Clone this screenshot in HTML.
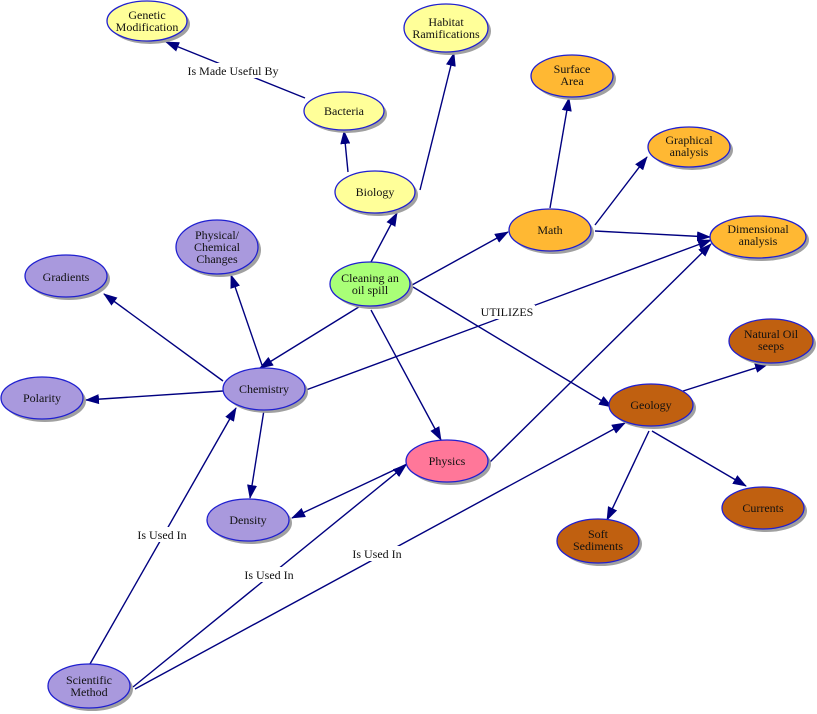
<!DOCTYPE html>
<html><head><meta charset="utf-8"><style>
html,body{margin:0;padding:0;background:#fff;}
svg{display:block;}
svg text{font-family:"Liberation Serif","DejaVu Serif",serif;font-size:12px;fill:#111;text-anchor:middle;}
</style></head><body>
<svg width="817" height="714" viewBox="0 0 817 714" xmlns="http://www.w3.org/2000/svg" font-family="Liberation Serif, DejaVu Serif, serif" font-size="12">
<defs>
<marker id="a" viewBox="0 0 14 10" refX="13" refY="5" markerWidth="14" markerHeight="10" markerUnits="userSpaceOnUse" orient="auto">
<path d="M0,0 L14,5 L0,10 Z" fill="#000080"/>
</marker>
</defs>
<g stroke="#000080" stroke-width="1.4" fill="none">
<line x1="305" y1="98" x2="166" y2="42" marker-end="url(#a)"/>
<line x1="348" y1="172" x2="344" y2="131" marker-end="url(#a)"/>
<line x1="420" y1="190" x2="454" y2="53" marker-end="url(#a)"/>
<line x1="371" y1="262" x2="397" y2="213" marker-end="url(#a)"/>
<line x1="412" y1="285" x2="508" y2="232" marker-end="url(#a)"/>
<line x1="362" y1="305" x2="260" y2="368" marker-end="url(#a)"/>
<line x1="371" y1="310" x2="441" y2="440" marker-end="url(#a)"/>
<line x1="413" y1="287" x2="612" y2="407" marker-end="url(#a)"/>
<line x1="550" y1="208" x2="569" y2="98" marker-end="url(#a)"/>
<line x1="595" y1="225" x2="647" y2="157" marker-end="url(#a)"/>
<line x1="595" y1="231" x2="710" y2="237" marker-end="url(#a)"/>
<line x1="306" y1="390" x2="711" y2="240" marker-end="url(#a)"/>
<line x1="263" y1="368" x2="231" y2="275" marker-end="url(#a)"/>
<line x1="223" y1="381" x2="104" y2="294" marker-end="url(#a)"/>
<line x1="223" y1="391" x2="86" y2="400" marker-end="url(#a)"/>
<line x1="264" y1="410" x2="250" y2="498" marker-end="url(#a)"/>
<line x1="490" y1="462" x2="711" y2="244" marker-end="url(#a)"/>
<line x1="407" y1="464" x2="292" y2="518" marker-end="url(#a)"/>
<line x1="680" y1="392" x2="768" y2="364" marker-end="url(#a)"/>
<line x1="652" y1="431" x2="746" y2="486" marker-end="url(#a)"/>
<line x1="649" y1="431" x2="607" y2="520" marker-end="url(#a)"/>
<line x1="90" y1="664" x2="236" y2="408" marker-end="url(#a)"/>
<line x1="133" y1="687" x2="406" y2="465" marker-end="url(#a)"/>
<line x1="135" y1="689" x2="625" y2="423" marker-end="url(#a)"/>
</g>
<g fill="#fff">
<rect x="186" y="63" width="94" height="15"/>
<rect x="134" y="527" width="56" height="15"/>
<rect x="241" y="567" width="56" height="15"/>
<rect x="349" y="546" width="56" height="15"/>
<rect x="479" y="305" width="56" height="14"/>
</g>
<text x="233" y="75">Is Made Useful By</text>
<text x="162" y="539">Is Used In</text>
<text x="269" y="579">Is Used In</text>
<text x="377" y="558">Is Used In</text>
<text x="507" y="316">UTILIZES</text>
<g fill="#a0a0a0">
<ellipse cx="150" cy="24" rx="40" ry="20"/>
<ellipse cx="449" cy="31" rx="42" ry="24"/>
<ellipse cx="347" cy="114" rx="40" ry="19"/>
<ellipse cx="378" cy="195" rx="40" ry="21"/>
<ellipse cx="575" cy="79" rx="41" ry="21"/>
<ellipse cx="692" cy="150" rx="41" ry="20"/>
<ellipse cx="553" cy="233" rx="41" ry="21"/>
<ellipse cx="761" cy="240" rx="48" ry="21"/>
<ellipse cx="220" cy="250" rx="41" ry="27"/>
<ellipse cx="69" cy="279" rx="41" ry="21"/>
<ellipse cx="373" cy="287" rx="40" ry="22"/>
<ellipse cx="774" cy="344" rx="42" ry="22"/>
<ellipse cx="267" cy="392" rx="41" ry="21"/>
<ellipse cx="45" cy="401" rx="41" ry="21"/>
<ellipse cx="654" cy="408" rx="42" ry="21"/>
<ellipse cx="450" cy="464" rx="41" ry="21"/>
<ellipse cx="251" cy="523" rx="41" ry="21"/>
<ellipse cx="766" cy="511" rx="41" ry="21"/>
<ellipse cx="601" cy="544" rx="41" ry="22"/>
<ellipse cx="92" cy="689" rx="41" ry="22"/>
</g>
<g stroke="#2020d0" stroke-width="1.3">
<g fill="#ffff99">
<ellipse cx="147" cy="21" rx="40" ry="20"/>
<ellipse cx="446" cy="28" rx="42" ry="24"/>
<ellipse cx="344" cy="111" rx="40" ry="19"/>
<ellipse cx="375" cy="192" rx="40" ry="21"/>
</g>
<g fill="#ffb833">
<ellipse cx="572" cy="76" rx="41" ry="21"/>
<ellipse cx="689" cy="147" rx="41" ry="20"/>
<ellipse cx="550" cy="230" rx="41" ry="21"/>
<ellipse cx="758" cy="237" rx="48" ry="21"/>
</g>
<g fill="#a999dd">
<ellipse cx="217" cy="247" rx="41" ry="27"/>
<ellipse cx="66" cy="276" rx="41" ry="21"/>
<ellipse cx="264" cy="389" rx="41" ry="21"/>
<ellipse cx="42" cy="398" rx="41" ry="21"/>
<ellipse cx="248" cy="520" rx="41" ry="21"/>
<ellipse cx="89" cy="686" rx="41" ry="22"/>
</g>
<ellipse cx="370" cy="284" rx="40" ry="22" fill="#a9ff77"/>
<g fill="#c06010">
<ellipse cx="771" cy="341" rx="42" ry="22"/>
<ellipse cx="651" cy="405" rx="42" ry="21"/>
<ellipse cx="763" cy="508" rx="41" ry="21"/>
<ellipse cx="598" cy="541" rx="41" ry="22"/>
</g>
<ellipse cx="447" cy="461" rx="41" ry="21" fill="#ff7799"/>
</g>
<text x="147" y="19">Genetic</text><text x="147" y="31">Modification</text>
<text x="446" y="26">Habitat</text><text x="446" y="38">Ramifications</text>
<text x="344" y="115">Bacteria</text>
<text x="375" y="196">Biology</text>
<text x="572" y="73">Surface</text><text x="572" y="85">Area</text>
<text x="689" y="144">Graphical</text><text x="689" y="156">analysis</text>
<text x="550" y="234">Math</text>
<text x="758" y="233">Dimensional</text><text x="758" y="245">analysis</text>
<text x="217" y="239">Physical/</text><text x="217" y="251">Chemical</text><text x="217" y="263">Changes</text>
<text x="66" y="281">Gradients</text>
<text x="370" y="282">Cleaning an</text><text x="370" y="294">oil spill</text>
<text x="771" y="338">Natural Oil</text><text x="771" y="350">seeps</text>
<text x="264" y="393">Chemistry</text>
<text x="42" y="402">Polarity</text>
<text x="651" y="409">Geology</text>
<text x="447" y="465">Physics</text>
<text x="248" y="524">Density</text>
<text x="763" y="512">Currents</text>
<text x="598" y="538">Soft</text><text x="598" y="550">Sediments</text>
<text x="89" y="684">Scientific</text><text x="89" y="696">Method</text>
</svg>
</body></html>
